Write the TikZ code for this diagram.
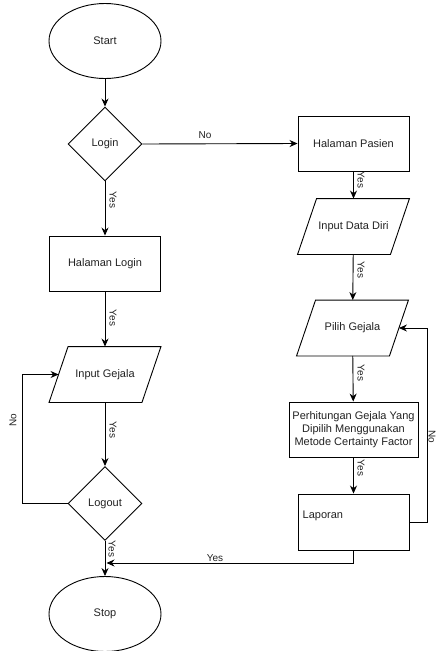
\documentclass[tikz,border=0pt]{standalone}
\usepackage{fontspec}
\setmainfont{Liberation Sans}
\usetikzlibrary{shapes.geometric,arrows.meta,calc}
\definecolor{ink}{HTML}{222222}
% outline of a data (input) box drawn round a named rectangular node
\newcommand\dataframe[1]{%
  \draw[line width=0.9pt] (#1.south west) -- ($(#1.north west)+(19,0)$)
    -- (#1.north east) -- ($(#1.south east)+(-19,0)$) -- cycle;}
\begin{document}
\begin{tikzpicture}[x=1pt,y=-1pt,
  base/.style={draw=black,line width=0.9pt,text=ink,font=\fontsize{11}{13}\selectfont,inner sep=0pt,align=center},
  terminal/.style={base,ellipse,minimum width=112pt,minimum height=75pt},
  decision/.style={base,diamond,minimum width=74pt,minimum height=74pt},
  process/.style={base,rectangle,minimum width=111pt,minimum height=55pt},
  io/.style={base,draw=none,rectangle,minimum width=111pt,minimum height=55pt},
  flow/.style={draw=black,line width=0.9pt,-{Stealth[length=8pt,width=7pt]}},
  lbl/.style={text=ink,font=\fontsize{10}{12}\selectfont,inner sep=0pt},
  vlbl/.style={lbl,rotate=-90}]
\useasboundingbox (0,0) rectangle (436,651);

% left column
\node[terminal] (start) at (105,41) {Start};
\node[decision] (login) at (105,144) {Login};
\node[process] (hlogin) at (105,263.5) {Halaman Login};
\node[io] (igejala) at (105,374.5) {Input Gejala};
\node[decision] (logout) at (105,503.5) {Logout};
\node[terminal] (stop) at (105,614) {Stop};

% right column
\node[process] (hpasien) at (353.5,143.5) {Halaman Pasien};
\node[io] (idata) at (353.5,226.5) {Input Data Diri};
\node[io] (pilih) at (352.5,328) {Pilih Gejala};
\node[process,minimum width=129pt] (perhit) at (353.5,429.5) {Perhitungan Gejala Yang\\Dipilih Menggunakan\\Metode Certainty Factor};
\node[process,minimum height=56pt] (laporan) at (353.5,522) {};
\node[lbl,font=\fontsize{11}{13}\selectfont,anchor=west] (laportext) at (302.5,516) {Laporan};

\dataframe{igejala}
\dataframe{idata}
\dataframe{pilih}

% helper points for the return lines
\coordinate (loopR) at (427,522);
\coordinate (loopL) at (22,503.5);
\coordinate (joinY) at (106.5,563);

% connectors
\draw[flow] (start) -- (login);
\draw[flow] (login.east) -- (hpasien.west);
\draw[flow] (login) -- (hlogin);
\draw[flow] (hlogin) -- (igejala);
\draw[flow] (igejala) -- (logout);
\draw[flow] (logout) -- (stop);
\draw[flow] (logout.west) -- (loopL) |- ($(igejala.west)+(9.5,0)$);

\draw[flow] (hpasien) -- (idata);
\draw[flow] (idata) -- (pilih);
\draw[flow] (pilih) -- (perhit);
\draw[flow] (perhit) -- (laporan);
\draw[flow] (laporan.east) -- (loopR) |- ($(pilih.east)+(-9.5,0)$);
\draw[flow] (laporan.south) |- (joinY);

% connector labels
\node[lbl] (noA) at (205,135) {No};
\node[vlbl] (yesA) at (113,200) {Yes};
\node[vlbl] (yesB) at (113,318) {Yes};
\node[vlbl] (yesC) at (113,430) {Yes};
\node[vlbl] (yesD) at (112,549) {Yes};
\node[lbl,rotate=90] (noB) at (13,420) {No};
\node[vlbl] (yesE) at (361,180) {Yes};
\node[vlbl] (yesF) at (361,270) {Yes};
\node[vlbl] (yesG) at (361,373) {Yes};
\node[vlbl] (yesH) at (361,468) {Yes};
\node[vlbl] (noC) at (432,437) {No};
\node[lbl] (yesI) at (215,558) {Yes};
\end{tikzpicture}
\end{document}
